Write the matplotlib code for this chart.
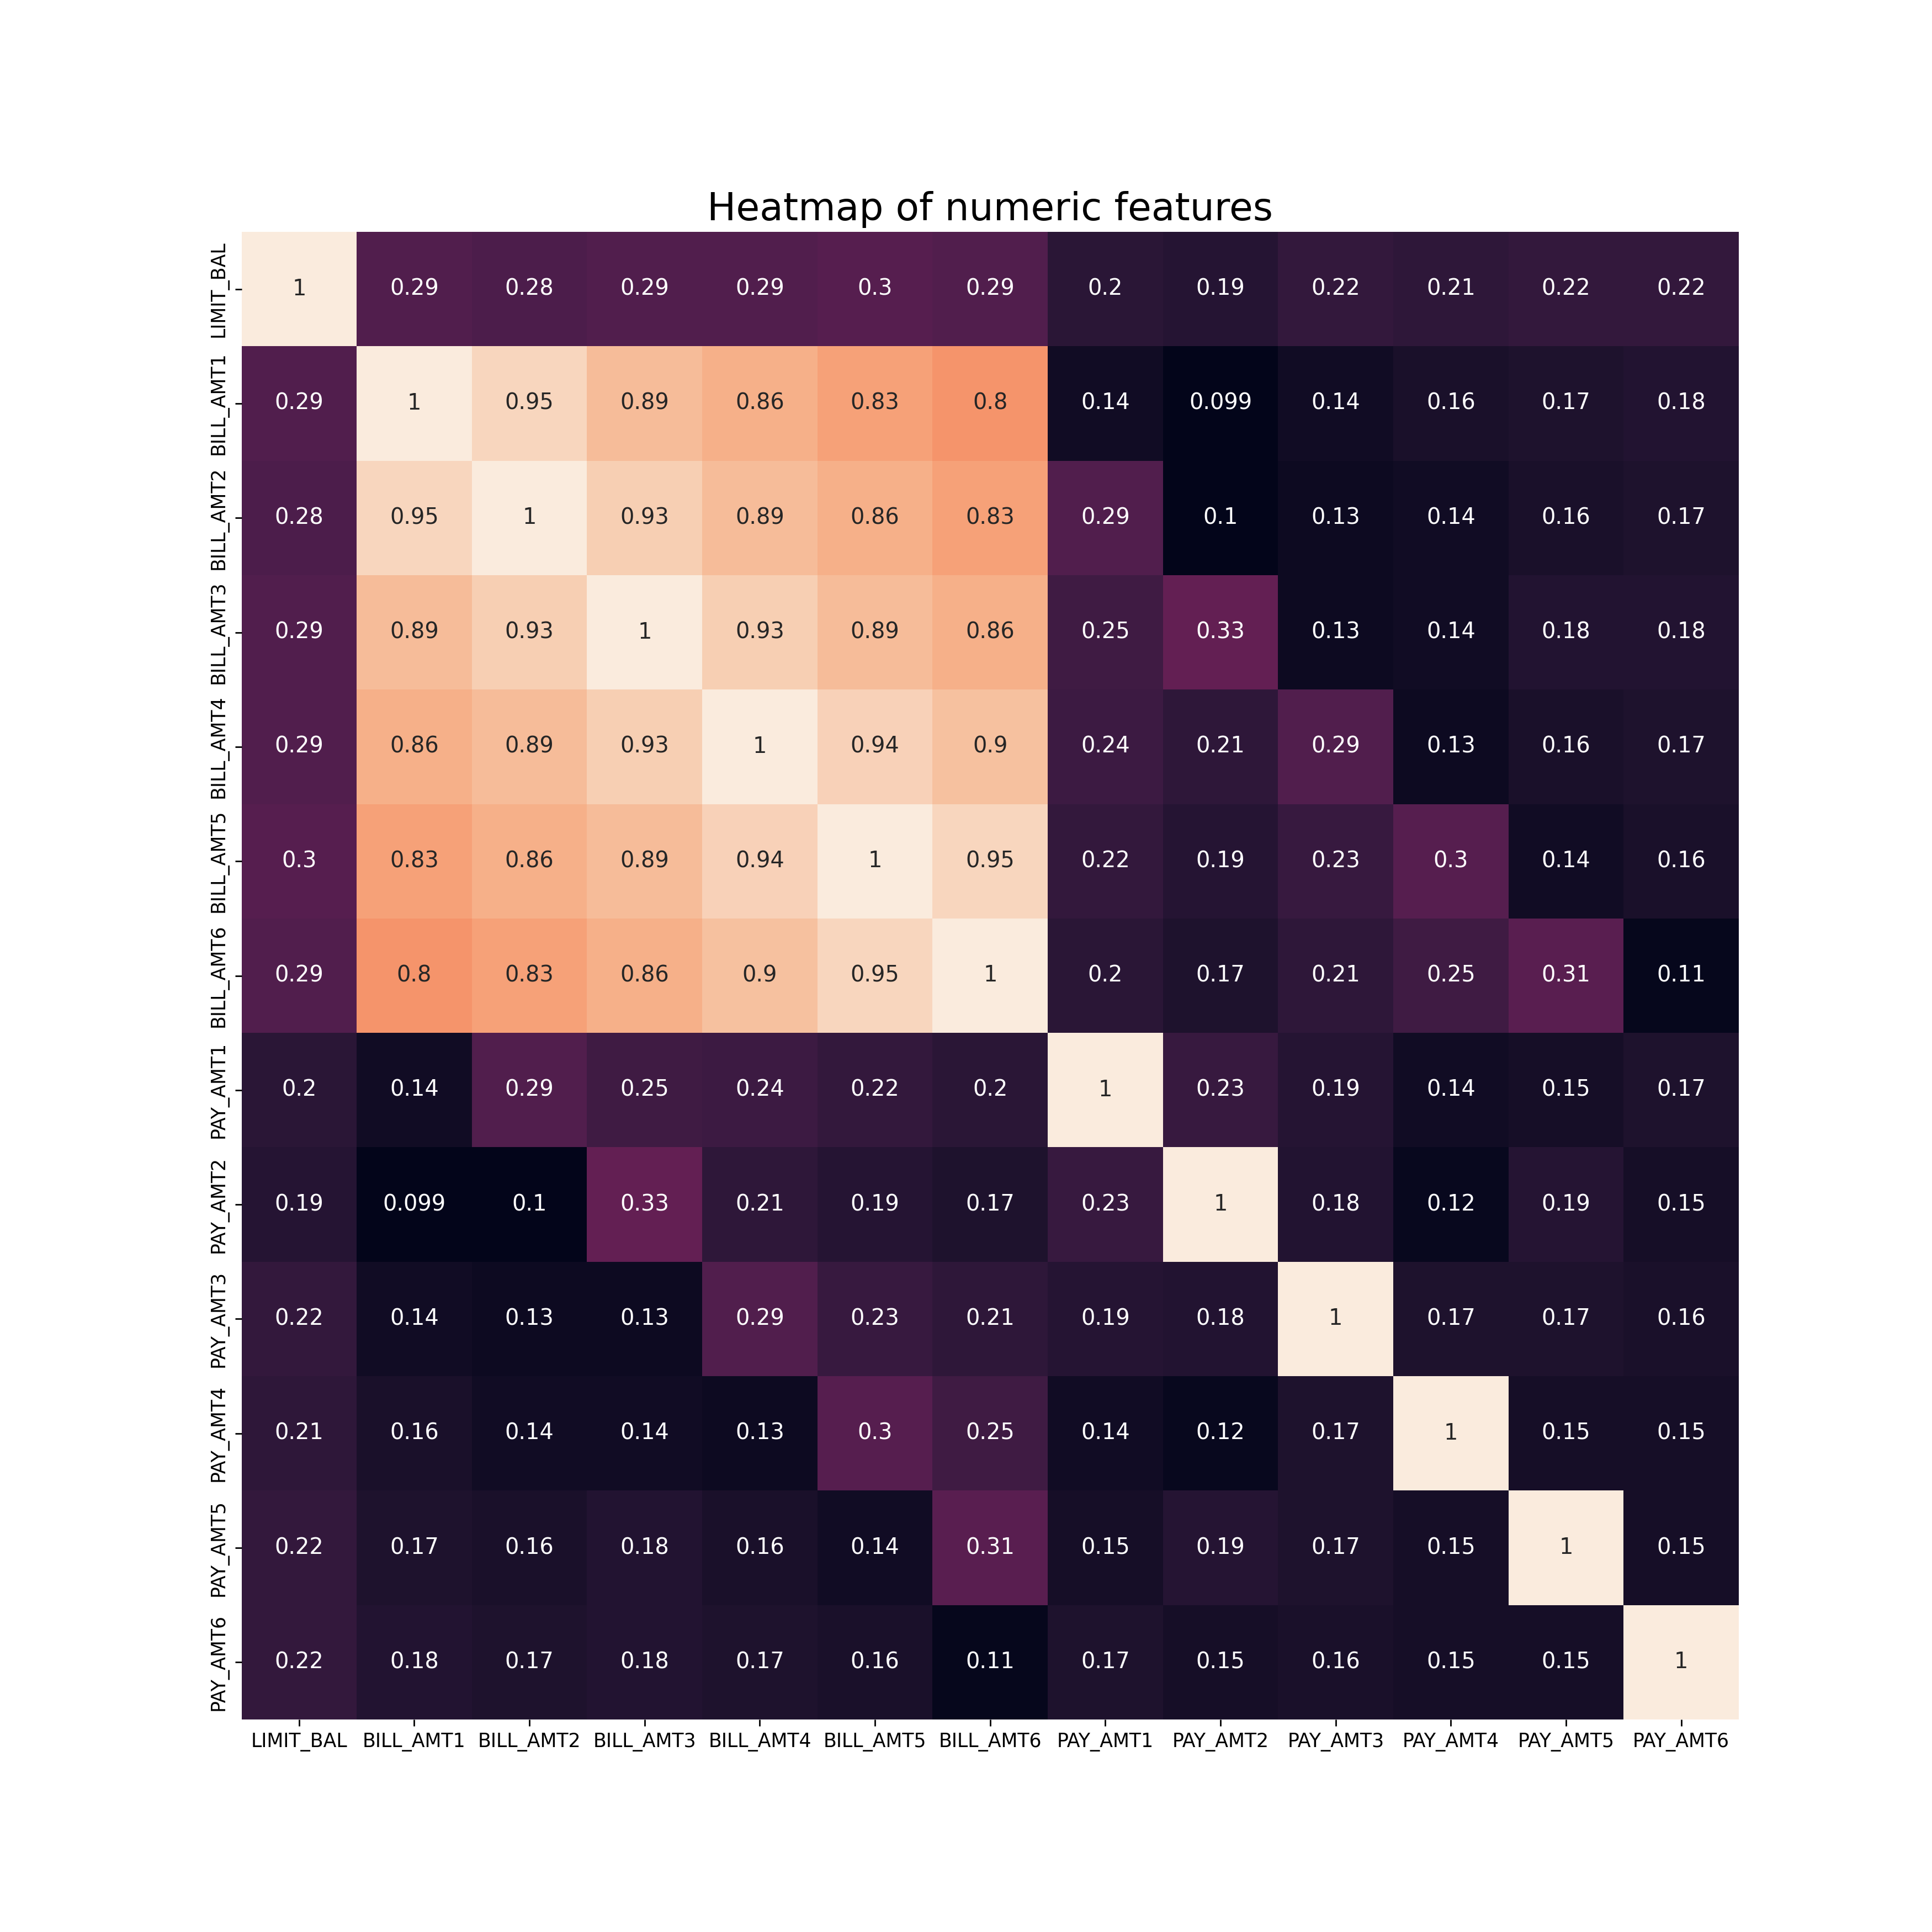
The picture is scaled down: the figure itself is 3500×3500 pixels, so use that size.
import numpy as np
import pandas as pd
import matplotlib
matplotlib.use("Agg")
import matplotlib.pyplot as plt
import seaborn as sns

features = ["LIMIT_BAL", "BILL_AMT1", "BILL_AMT2", "BILL_AMT3", "BILL_AMT4",
            "BILL_AMT5", "BILL_AMT6", "PAY_AMT1", "PAY_AMT2", "PAY_AMT3",
            "PAY_AMT4", "PAY_AMT5", "PAY_AMT6"]

# correlation values, one row per feature
limit_bal = [1, .29, .28, .29, .29, .3, .29, .2, .19, .22, .21, .22, .22]
bill_amt1 = [.29, 1, .95, .89, .86, .83, .8, .14, .099, .14, .16, .17, .18]
bill_amt2 = [.28, .95, 1, .93, .89, .86, .83, .29, .1, .13, .14, .16, .17]
bill_amt3 = [.29, .89, .93, 1, .93, .89, .86, .25, .33, .13, .14, .18, .18]
bill_amt4 = [.29, .86, .89, .93, 1, .94, .9, .24, .21, .29, .13, .16, .17]
bill_amt5 = [.3, .83, .86, .89, .94, 1, .95, .22, .19, .23, .3, .14, .16]
bill_amt6 = [.29, .8, .83, .86, .9, .95, 1, .2, .17, .21, .25, .31, .11]
pay_amt1 = [.2, .14, .29, .25, .24, .22, .2, 1, .23, .19, .14, .15, .17]
pay_amt2 = [.19, .099, .1, .33, .21, .19, .17, .23, 1, .18, .12, .19, .15]
pay_amt3 = [.22, .14, .13, .13, .29, .23, .21, .19, .18, 1, .17, .17, .16]
pay_amt4 = [.21, .16, .14, .14, .13, .3, .25, .14, .12, .17, 1, .15, .15]
pay_amt5 = [.22, .17, .16, .18, .16, .14, .31, .15, .19, .17, .15, 1, .15]
pay_amt6 = [.22, .18, .17, .18, .17, .16, .11, .17, .15, .16, .15, .15, 1]

corr = pd.DataFrame([limit_bal, bill_amt1, bill_amt2, bill_amt3, bill_amt4,
                     bill_amt5, bill_amt6, pay_amt1, pay_amt2, pay_amt3,
                     pay_amt4, pay_amt5, pay_amt6],
                    index=features, columns=features)

fig, ax = plt.subplots(figsize=(14, 14))
sns.heatmap(corr, annot=True, annot_kws={"size": 11.5}, cbar=False, ax=ax)
ax.set_title("Heatmap of numeric features", fontsize=20)
ax.tick_params(labelsize=10)

fig.savefig("out.png", dpi=250)
